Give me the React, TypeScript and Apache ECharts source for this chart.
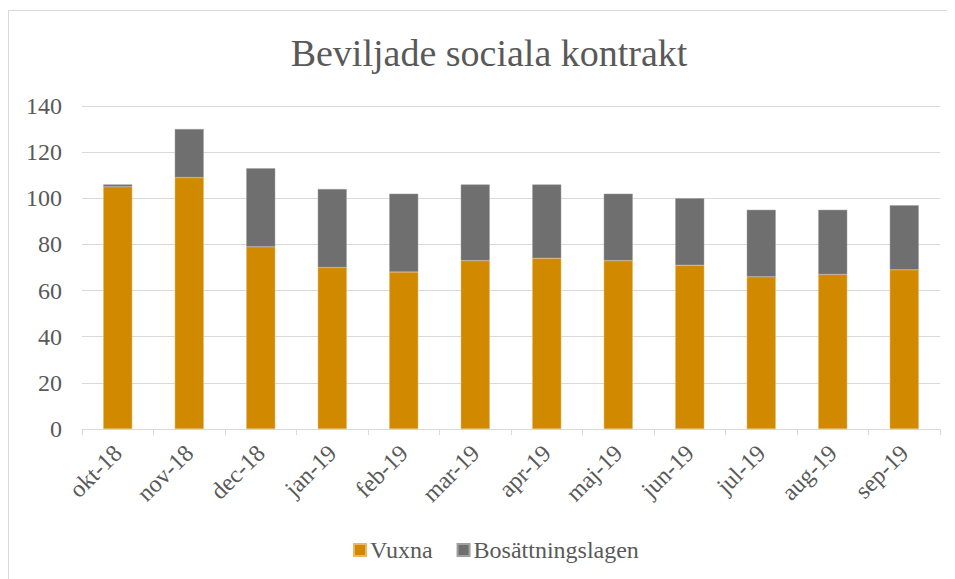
import React, { useEffect, useRef } from "react";
import * as echarts from "echarts";

const categories = ["okt-18", "nov-18", "dec-18", "jan-19", "feb-19", "mar-19", "apr-19", "maj-19", "jun-19", "jul-19", "aug-19", "sep-19"];
const vuxna = [105, 109, 79, 70, 68, 73, 74, 73, 71, 66, 67, 69];
const bosattningslagen = [1, 21, 34, 34, 34, 33, 32, 29, 29, 29, 28, 28];
const yTicks = { min: 0, max: 140, interval: 20 };
const titleText = "Beviljade sociala kontrakt";
const seriesNames = ["Vuxna", "Bosättningslagen"];

const FONT = "Liberation Serif";
const TEXT = "#595959";

export default function App() {
  const ref = useRef<HTMLDivElement>(null);
  useEffect(() => {
    if (!ref.current) return;
    const chart = echarts.init(ref.current, undefined, { renderer: "svg" });
    chart.setOption({
      animation: false,
      backgroundColor: "#fff",
      textStyle: { fontFamily: FONT },
      graphic: [
        {
          type: "text",
          x: 480,
          y: 42,
          style: {
            text: titleText,
            fontFamily: FONT,
            fontSize: 38,
            fill: TEXT,
            textAlign: "center",
            textVerticalAlign: "middle",
          },
        },
      ],
      legend: {
        data: seriesNames,
        left: 339,
        top: 522,
        itemWidth: 12,
        itemHeight: 12,
        itemGap: 24,
        icon: "rect",
        textStyle: { fontFamily: FONT, fontSize: 24, color: TEXT, padding: [0, 0, 0, -1] },
      },
      grid: { left: 73, top: 95, width: 858, height: 323, containLabel: false },
      xAxis: {
        type: "category",
        data: categories,
        axisLine: { lineStyle: { color: "#d9d9d9", width: 1 } },
        axisTick: { show: true, length: 6, lineStyle: { color: "#d9d9d9" } },
        axisLabel: { rotate: 45, margin: 20, fontFamily: FONT, fontSize: 24, color: TEXT },
      },
      yAxis: {
        type: "value",
        min: yTicks.min,
        max: yTicks.max,
        interval: yTicks.interval,
        axisLine: { show: false },
        axisTick: { show: false },
        splitLine: { lineStyle: { color: "#d9d9d9", width: 1 } },
        axisLabel: { margin: 20, fontFamily: FONT, fontSize: 24, color: TEXT },
      },
      series: [
        {
          name: seriesNames[0],
          type: "bar",
          stack: "total",
          data: vuxna,
          barWidth: 29,
          itemStyle: { color: "#D18A00", borderColor: "#E8B866", borderWidth: 0.5 },
        },
        {
          name: seriesNames[1],
          type: "bar",
          stack: "total",
          data: bosattningslagen,
          barWidth: 29,
          itemStyle: { color: "#6F6F70", borderColor: "#a0a0a0", borderWidth: 0.5 },
        },
      ],
    });
    return () => chart.dispose();
  }, []);
  return (
    <div
      style={{
        marginTop: 2,
        width: 946,
        height: 568,
        borderLeft: "1px solid #d9d9d9",
        borderTop: "1px solid #d9d9d9",
      }}
    >
      <div ref={ref} style={{ width: 946, height: 568 }} />
    </div>
  );
}
